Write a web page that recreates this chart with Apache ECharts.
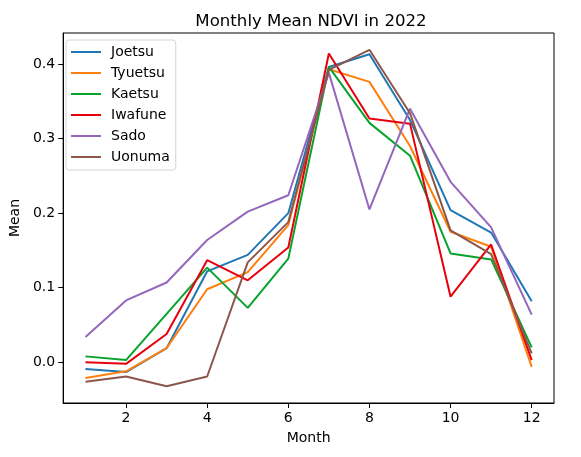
<!DOCTYPE html>
<html>
<head>
<meta charset="utf-8">
<script src="https://cdn.jsdelivr.net/npm/echarts@6/dist/echarts.min.js"></script>
<style>
  html, body { margin: 0; padding: 0; background: #fff; }
  #main { width: 581px; height: 457px; }
</style>
</head>
<body>
<div id="main"></div>
<script>
// monthly mean NDVI
var months = [1, 2, 3, 4, 5, 6, 7, 8, 9, 10, 11, 12];
var regions = ['Joetsu', 'Tyuetsu', 'Kaetsu', 'Iwafune', 'Sado', 'Uonuma'];
var joetsu = [-0.009, -0.013, 0.019, 0.122, 0.144, 0.200, 0.396, 0.413, 0.325, 0.204, 0.174, 0.082];
var tyuetsu = [-0.021, -0.012, 0.019, 0.098, 0.121, 0.184, 0.393, 0.376, 0.290, 0.175, 0.155, -0.006];
var kaetsu = [0.008, 0.003, 0.065, 0.127, 0.073, 0.139, 0.396, 0.321, 0.277, 0.146, 0.138, 0.020];
var iwafune = [0.000, -0.002, 0.038, 0.137, 0.110, 0.154, 0.414, 0.327, 0.320, 0.088, 0.158, 0.003];
var sado = [0.034, 0.083, 0.107, 0.164, 0.202, 0.224, 0.388, 0.205, 0.340, 0.242, 0.181, 0.064];
var uonuma = [-0.026, -0.019, -0.032, -0.019, 0.134, 0.188, 0.392, 0.419, 0.334, 0.177, 0.145, 0.012];
var xTicks = [2, 4, 6, 8, 10, 12];
var yTicks = [0.0, 0.1, 0.2, 0.3, 0.4];

var values = [joetsu, tyuetsu, kaetsu, iwafune, sado, uonuma];
var colors = ['#1f77b4', '#ff7f0e', '#08a32c', '#e6000b', '#9467bd', '#8c564b'];
var font = 'DejaVu Sans';

var series = regions.map(function (name, i) {
  return {
    name: name,
    type: 'line',
    symbol: 'none',
    color: colors[i],
    lineStyle: { width: 2, color: colors[i] },
    data: months.map(function (m, j) { return [m, values[i][j]]; })
  };
});

var chart = echarts.init(document.getElementById('main'), null, { renderer: 'canvas' });
chart.setOption({
  animation: false,
  textStyle: { fontFamily: font, color: '#000' },
  title: {
    text: 'Monthly Mean NDVI in 2022',
    left: 306,
    top: 8,
    textAlign: 'center',
    textStyle: { fontFamily: font, fontSize: 16.6, fontWeight: 'normal', color: '#000' }
  },
  legend: {
    orient: 'vertical',
    left: 66,
    top: 40,
    itemWidth: 30,
    itemHeight: 14,
    itemGap: 7,
    padding: [5, 6, 6, 4],
    borderColor: '#d4d4d4',
    borderWidth: 1,
    borderRadius: 3,
    backgroundColor: 'rgba(255,255,255,0.8)',
    itemStyle: { opacity: 0 },
    lineStyle: { width: 2 },
    textStyle: { fontFamily: font, fontSize: 14, color: '#000', padding: [0, 0, 0, 5] },
    data: regions
  },
  grid: {
    left: 59, right: 27, top: 33, bottom: 54,
    show: true, borderColor: '#000', borderWidth: 1
  },
  xAxis: {
    type: 'value',
    min: 0.45,
    max: 12.55,
    name: 'Month',
    nameLocation: 'middle',
    nameGap: 28,
    nameTextStyle: { fontFamily: font, fontSize: 14, color: '#000' },
    axisLine: { show: true, onZero: false, lineStyle: { color: '#000', width: 1 } },
    axisTick: { show: true, length: 5, lineStyle: { color: '#000' }, customValues: xTicks },
    axisLabel: { fontFamily: font, fontSize: 14, color: '#000', margin: 8, customValues: xTicks },
    splitLine: { show: false }
  },
  yAxis: {
    type: 'value',
    min: -0.0545,
    max: 0.4415,
    name: 'Mean',
    nameLocation: 'middle',
    nameRotate: 90,
    nameGap: 38,
    nameTextStyle: { fontFamily: font, fontSize: 14, color: '#000' },
    axisLine: { show: true, onZero: false, lineStyle: { color: '#000', width: 1 } },
    axisTick: { show: true, length: 5, lineStyle: { color: '#000' }, customValues: yTicks },
    axisLabel: {
      fontFamily: font, fontSize: 14, color: '#000', margin: 8, customValues: yTicks,
      formatter: function (v) { return v.toFixed(1); }
    },
    splitLine: { show: false }
  },
  series: series
});
</script>
</body>
</html>
